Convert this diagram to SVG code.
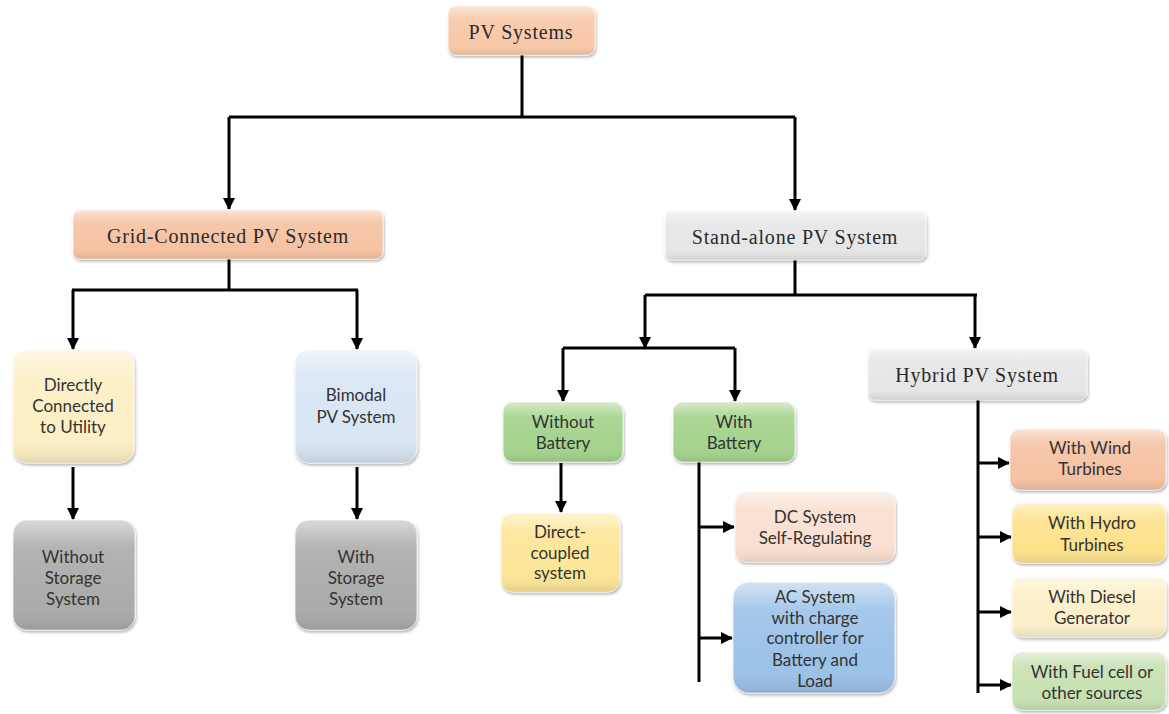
<svg xmlns="http://www.w3.org/2000/svg" width="1169" height="714" viewBox="0 0 1169 714">
<style>
.serif{font-family:"Liberation Serif","Times New Roman",serif;font-size:20px;fill:#2a2a2a;text-anchor:middle;letter-spacing:0.8px}
.sans{font-family:Lato,"Liberation Sans",sans-serif;font-size:17px;fill:#333;text-anchor:middle}
.conn{stroke:#000;stroke-width:3;fill:none}
.arr{marker-end:url(#ah)}
.box{filter:url(#sh);stroke:#ffffff;stroke-opacity:0.7;stroke-width:1}
.sheen{fill:url(#sheen);pointer-events:none}
</style>
<defs>
<marker id="ah" markerUnits="userSpaceOnUse" markerWidth="12" markerHeight="12" refX="11" refY="6" orient="auto" viewBox="0 0 12 12">
<path d="M0,0 L12,6 L0,12 z" fill="#000"/>
</marker>
<linearGradient id="sheen" x1="0" y1="0" x2="0" y2="1">
<stop offset="0" stop-color="#fff" stop-opacity="0.55"/>
<stop offset="0.25" stop-color="#fff" stop-opacity="0.1"/>
<stop offset="0.75" stop-color="#fff" stop-opacity="0"/>
<stop offset="1" stop-color="#000" stop-opacity="0.1"/>
</linearGradient>
<filter id="sh" x="-10%" y="-10%" width="125%" height="130%">
<feDropShadow dx="1" dy="2" stdDeviation="1.5" flood-color="#000" flood-opacity="0.3"/>
</filter>
</defs>
<rect width="1169" height="714" fill="#fff"/>

<g id="connectors">
<path class="conn" d="M522,55 V117 M229,117 H795"/>
<path class="conn arr" d="M229,117 V209"/>
<path class="conn arr" d="M795,117 V210"/>
<path class="conn" d="M229,259 V290 M72,290 H358"/>
<path class="conn arr" d="M73,290 V349"/>
<path class="conn arr" d="M357,290 V349"/>
<path class="conn arr" d="M73,467 V519"/>
<path class="conn arr" d="M357,467 V519"/>
<path class="conn" d="M795,260 V295 M645,295 H977"/>
<path class="conn arr" d="M645,295 V348"/>
<path class="conn" d="M563,348 H735"/>
<path class="conn arr" d="M563,348 V401"/>
<path class="conn arr" d="M735,348 V401"/>
<path class="conn arr" d="M975,295 V348"/>
<path class="conn arr" d="M561,463 V512"/>
<path class="conn" d="M699,462 V682"/>
<path class="conn arr" d="M699,527 H734"/>
<path class="conn arr" d="M699,638 H732"/>
<path class="conn" d="M978,400 V693"/>
<path class="conn arr" d="M978,463 H1009"/>
<path class="conn arr" d="M978,537 H1011"/>
<path class="conn arr" d="M978,612 H1011"/>
<path class="conn arr" d="M978,685 H1011"/>
</g>

<g id="pv-systems">
<rect class="box" x="448" y="6" width="147" height="49" rx="8" fill="#f8c8a8"/>
<rect class="sheen" x="448" y="6" width="147" height="49" rx="8"/>
<text class="serif" x="521" y="39">PV Systems</text>
</g>

<g id="grid-connected">
<rect class="box" x="73" y="210" width="310" height="49" rx="7" fill="#f6c2a2"/>
<rect class="sheen" x="73" y="210" width="310" height="49" rx="7"/>
<text class="serif" x="228" y="243">Grid-Connected PV System</text>
</g>

<g id="stand-alone">
<rect class="box" x="665" y="211" width="261" height="49" rx="7" fill="#e6e6e6"/>
<rect class="sheen" x="665" y="211" width="261" height="49" rx="7"/>
<text class="serif" x="795" y="244">Stand-alone PV System</text>
</g>

<g id="directly-connected">
<rect class="box" x="13" y="350" width="121" height="113" rx="14" fill="#fcefc4"/>
<rect class="sheen" x="13" y="350" width="121" height="113" rx="14"/>
<text class="sans" x="73" y="391">Directly</text>
<text class="sans" x="73" y="412">Connected</text>
<text class="sans" x="73" y="433">to Utility</text>
</g>

<g id="bimodal">
<rect class="box" x="295" y="350" width="122" height="113" rx="14" fill="#d8e5f3"/>
<rect class="sheen" x="295" y="350" width="122" height="113" rx="14"/>
<text class="sans" x="356" y="401">Bimodal</text>
<text class="sans" x="356" y="423">PV System</text>
</g>

<g id="without-storage">
<rect class="box" x="13" y="520" width="122" height="110" rx="14" fill="#ababab"/>
<rect class="sheen" x="13" y="520" width="122" height="110" rx="14"/>
<text class="sans" x="73" y="563">Without</text>
<text class="sans" x="73" y="584">Storage</text>
<text class="sans" x="73" y="605">System</text>
</g>

<g id="with-storage">
<rect class="box" x="295" y="520" width="122" height="110" rx="14" fill="#ababab"/>
<rect class="sheen" x="295" y="520" width="122" height="110" rx="14"/>
<text class="sans" x="356" y="563">With</text>
<text class="sans" x="356" y="584">Storage</text>
<text class="sans" x="356" y="605">System</text>
</g>

<g id="without-battery">
<rect class="box" x="503" y="402" width="120" height="60" rx="10" fill="#a4d28c"/>
<rect class="sheen" x="503" y="402" width="120" height="60" rx="10"/>
<text class="sans" x="563" y="428">Without</text>
<text class="sans" x="563" y="449">Battery</text>
</g>

<g id="with-battery">
<rect class="box" x="673" y="402" width="122" height="60" rx="10" fill="#a4d28c"/>
<rect class="sheen" x="673" y="402" width="122" height="60" rx="10"/>
<text class="sans" x="734" y="428">With</text>
<text class="sans" x="734" y="449">Battery</text>
</g>

<g id="direct-coupled">
<rect class="box" x="501" y="513" width="119" height="79" rx="12" fill="#fde597"/>
<rect class="sheen" x="501" y="513" width="119" height="79" rx="12"/>
<text class="sans" x="560" y="538">Direct-</text>
<text class="sans" x="560" y="559">coupled</text>
<text class="sans" x="560" y="579">system</text>
</g>

<g id="dc-system">
<rect class="box" x="735" y="492" width="160" height="70" rx="11" fill="#f9dfd0"/>
<rect class="sheen" x="735" y="492" width="160" height="70" rx="11"/>
<text class="sans" x="815" y="523">DC System</text>
<text class="sans" x="815" y="544">Self-Regulating</text>
</g>

<g id="ac-system">
<rect class="box" x="733" y="582" width="162" height="111" rx="16" fill="#9cc2e8"/>
<rect class="sheen" x="733" y="582" width="162" height="111" rx="16"/>
<text class="sans" x="815" y="603">AC System</text>
<text class="sans" x="815" y="624">with charge</text>
<text class="sans" x="815" y="644">controller for</text>
<text class="sans" x="815" y="666">Battery and</text>
<text class="sans" x="815" y="687">Load</text>
</g>

<g id="hybrid">
<rect class="box" x="868" y="349" width="219" height="51" rx="7" fill="#e6e6e6"/>
<rect class="sheen" x="868" y="349" width="219" height="51" rx="7"/>
<text class="serif" x="977" y="382">Hybrid PV System</text>
</g>

<g id="wind">
<rect class="box" x="1010" y="429" width="156" height="61" rx="10" fill="#f5c2a3"/>
<rect class="sheen" x="1010" y="429" width="156" height="61" rx="10"/>
<text class="sans" x="1090" y="454">With Wind</text>
<text class="sans" x="1090" y="475">Turbines</text>
</g>

<g id="hydro">
<rect class="box" x="1012" y="503" width="154" height="60" rx="10" fill="#fde28c"/>
<rect class="sheen" x="1012" y="503" width="154" height="60" rx="10"/>
<text class="sans" x="1092" y="529">With Hydro</text>
<text class="sans" x="1092" y="551">Turbines</text>
</g>

<g id="diesel">
<rect class="box" x="1012" y="577" width="154" height="60" rx="10" fill="#fcefc9"/>
<rect class="sheen" x="1012" y="577" width="154" height="60" rx="10"/>
<text class="sans" x="1092" y="603">With Diesel</text>
<text class="sans" x="1092" y="624">Generator</text>
</g>

<g id="fuel-cell">
<rect class="box" x="1012" y="652" width="154" height="58" rx="10" fill="#c7e1b2"/>
<rect class="sheen" x="1012" y="652" width="154" height="58" rx="10"/>
<text class="sans" x="1092" y="678">With Fuel cell or</text>
<text class="sans" x="1092" y="699">other sources</text>
</g>
</svg>
